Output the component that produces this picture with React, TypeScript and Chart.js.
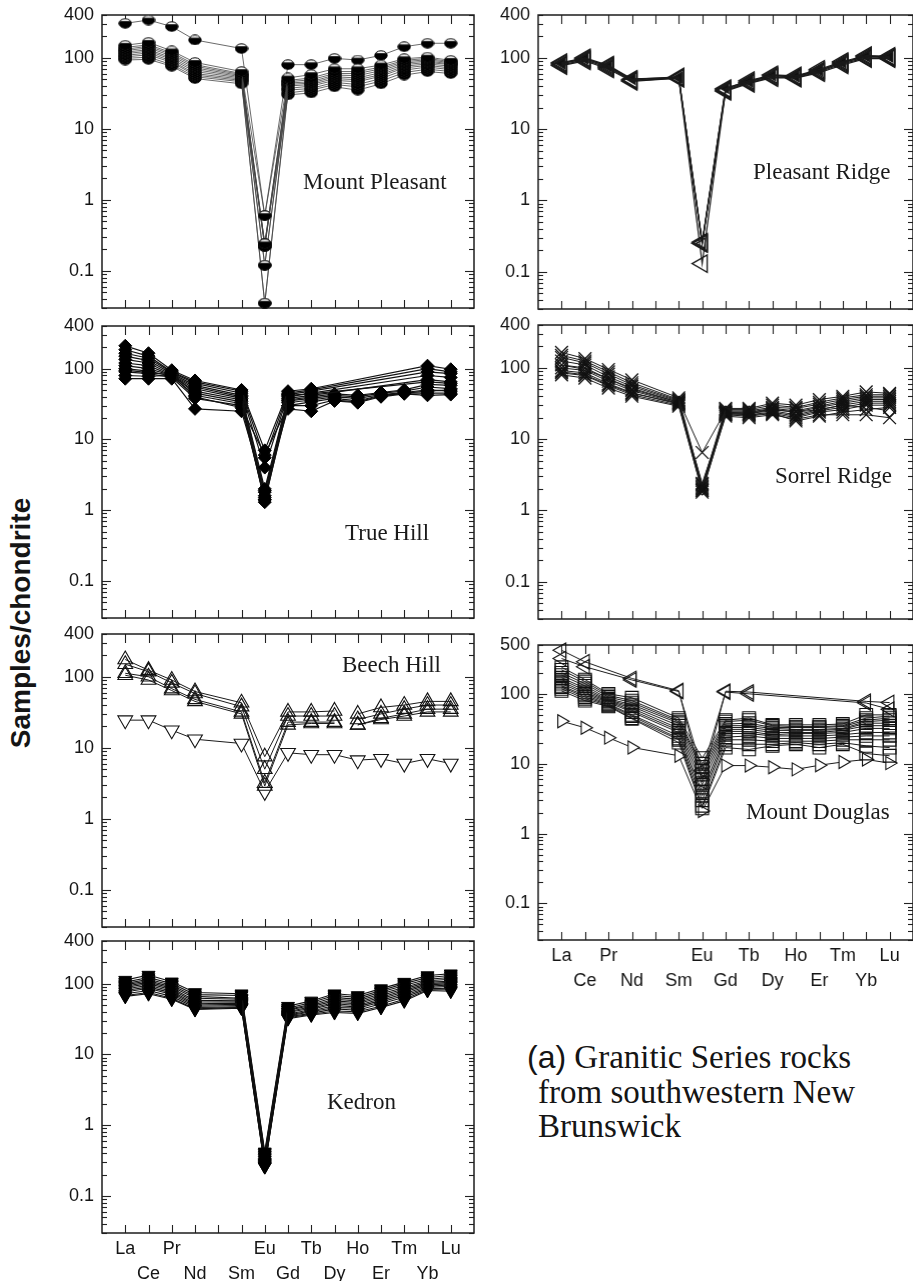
import React, { useEffect, useRef } from 'react';
import { Chart, registerables } from 'chart.js';

Chart.register(...registerables);

// Chondrite-normalised REE patterns, one panel per granite body.
const ELEMENTS = ['La', 'Ce', 'Pr', 'Nd', 'Pm', 'Sm', 'Eu', 'Gd', 'Tb', 'Dy', 'Ho', 'Er', 'Tm', 'Yb', 'Lu'];
const Y_TICKS = [0.1, 1, 10, 100, 400];
const Y_TICKS_MD = [0.1, 1, 10, 100, 500];
const Y_MIN = 0.03;

const _ = null;

// Mount Pleasant
const MP_HIGH = [305, 340, 275, 178, _, 135, 0.6, 80, 80, 98, 93, 108, 143, 160, 160];
const MP_MAIN = [
  [150, 165, 125, 86, _, 64, 0.6, 52, 58, 70, 70, 79, 97, 102, 92],
  [140, 152, 118, 80, _, 60, 0.24, 48, 52, 64, 64, 74, 92, 98, 88],
  [132, 145, 112, 76, _, 58, 0.24, 46, 49, 60, 60, 70, 88, 94, 85],
  [126, 138, 106, 72, _, 56, 0.22, 44, 46, 57, 56, 66, 84, 90, 82],
  [120, 130, 100, 68, _, 54, 0.22, 42, 44, 54, 52, 62, 80, 86, 80],
  [114, 124, 95, 64, _, 52, 0.12, 40, 42, 51, 49, 58, 76, 82, 76],
  [108, 117, 90, 60, _, 50, 0.12, 37, 40, 48, 46, 55, 72, 78, 72],
  [103, 110, 86, 57, _, 48, 0.035, 35, 37, 45, 42, 51, 67, 74, 68],
  [98, 102, 80, 54, _, 46, 0.035, 32, 35, 42, 39, 47, 62, 69, 64],
  [93, 95, 76, 51, _, 43, 0.24, 30, 32, 39, 35, 43, 57, 64, 60],
];

// Pleasant Ridge
const PR_SERIES = [
  [86, 100, 79, 50, _, 54, 0.26, 37, 48, 58, 56, 69, 89, 108, 105],
  [83, 97, 76, 49, _, 53, 0.25, 36, 46, 56, 54, 66, 86, 104, 102],
  [80, 94, 73, 48, _, 52, 0.13, 35, 45, 54, 53, 64, 83, 100, 100],
  [78, 91, 70, 47, _, 52, 0.25, 34, 44, 53, 52, 62, 80, 98, 98],
];
const PR_SOLID = [84, 98, 77, 51, _, 53, 0.25, 38, 47, 57, 55, 67, 87, 106, 104];

// True Hill
const TH_SERIES = [
  [210, 165, 95, 68, _, 50, 7, 48, 52, _, _, _, _, 110, 98],
  [185, 150, 90, 65, _, 48, 5.5, 45, 50, _, _, _, _, 100, 90],
  [165, 140, 88, 62, _, 45, 4, 43, 48, _, _, _, _, 90, 85],
  [150, 130, 85, 58, _, 42, 2, 40, 45, _, _, _, _, 80, 75],
  [135, 120, 82, 55, _, 40, 1.8, 38, 42, _, _, _, _, 70, 65],
  [120, 110, 80, 52, _, 38, 1.5, 36, 40, 44, 42, 46, 50, 60, 58],
  [110, 100, 80, 48, _, 36, 1.3, 35, 38, 42, 40, 45, 48, 55, 52],
  [100, 92, 78, 42, _, 32, 1.6, 33, 36, 40, 38, 43, 46, 50, 48],
  [90, 85, 75, 38, _, 30, 1.4, 30, 34, 38, 35, 42, 45, 45, 45],
  [72, 72, 72, 27, _, 25, 1.9, 27, 25, 35, 33, 40, 44, 42, 43],
  [80, 78, 80, 40, _, 28, 6, 30, 30, 36, 34, 41, 45, 48, 50],
  [95, 88, 82, 45, _, 34, 1.4, 42, 44, _, _, _, _, 65, 62],
];

// Sorrel Ridge
const SR_SERIES = [
  [165, 135, 95, 68, _, 38, 2.2, 27, 27, 32, 30, 36, 40, 46, 44],
  [150, 125, 88, 62, _, 36, 2.0, 26, 26, 30, 28, 33, 38, 42, 42],
  [140, 118, 82, 58, _, 35, 6.5, 25, 25, 28, 27, 31, 36, 40, 40],
  [125, 110, 75, 55, _, 34, 1.9, 24, 24, 27, 25, 29, 34, 38, 38],
  [110, 100, 70, 50, _, 33, 2.0, 24, 23, 26, 24, 28, 32, 36, 36],
  [100, 92, 65, 48, _, 32, 2.1, 23, 23, 25, 22, 26, 30, 34, 34],
  [92, 85, 60, 45, _, 31, 1.8, 22, 22, 24, 21, 25, 28, 32, 32],
  [85, 78, 56, 42, _, 30, 2.3, 22, 21, 23, 20, 24, 26, 30, 30],
  [80, 72, 52, 40, _, 29, 1.9, 21, 20, 22, 19, 22, 22, 22, 20],
  [88, 80, 58, 44, _, 32, 2.4, 23, 22, 23, 18, 21, 24, 26, 28],
];
const SR_DIAMOND = [110, 95, 70, 52, _, 33, 2.0, 24, 24, 26, 24, 26, 30, 28, 25];

// Beech Hill
const BH_UP = [
  [175, 124, 90, 62, _, 43, 7.5, 32, 32, 33, 30, 37, 40, 45, 45],
  [150, 118, 82, 58, _, 38, 5, 28, 28, 28, 25, 30, 35, 40, 40],
  [112, 100, 68, 48, _, 32, 3.2, 23, 23, 23, 21, 26, 30, 35, 35],
  [105, 90, 64, 45, _, 30, 2.9, 21, 22, 22, 21, 25, 28, 32, 32],
];
const BH_DOWN = [24.5, 24.5, 17.7, 13.2, _, 11.5, 2.4, 8.5, 8.0, 8.0, 6.7, 7.0, 6.0, 7.0, 6.0];

// Kedron
const KD_SERIES = [
  [112, 132, 106, 75, _, 72, 0.42, 48, 57, 72, 68, 85, 105, 130, 138],
  [105, 122, 100, 70, _, 68, 0.4, 45, 54, 68, 64, 80, 100, 122, 130],
  [100, 115, 95, 66, _, 62, 0.38, 43, 51, 64, 60, 76, 94, 115, 122],
  [96, 110, 90, 62, _, 60, 0.36, 42, 49, 60, 57, 72, 88, 110, 115],
  [92, 105, 86, 58, _, 57, 0.34, 40, 47, 57, 54, 68, 84, 105, 108],
  [88, 100, 82, 55, _, 55, 0.32, 39, 45, 54, 52, 64, 80, 100, 104],
  [84, 95, 78, 52, _, 53, 0.3, 37, 43, 52, 49, 61, 76, 96, 100],
  [80, 90, 74, 50, _, 51, 0.29, 36, 41, 49, 47, 58, 72, 92, 96],
  [76, 86, 70, 48, _, 49, 0.28, 35, 40, 46, 45, 55, 68, 88, 92],
  [72, 80, 66, 46, _, 47, 0.27, 34, 38, 44, 42, 52, 64, 85, 86],
  [68, 75, 62, 44, _, 46, 0.26, 33, 37, 41, 40, 48, 60, 82, 82],
  [66, 72, 60, 43, _, 45, 0.26, 32, 36, 39, 38, 46, 57, 80, 78],
];

// Mount Douglas
const MD_LEFT = [
  [420, 287, _, 166, _, 111, 5.5, 109, 106, _, _, _, _, 78, 75],
  [320, 244, _, 158, _, 108, 8, 106, 100, _, _, _, _, 74, 60],
];
const MD_RIGHT = [40.6, 32.7, 23.6, 17.1, _, 13, 2.1, 9.4, 9.4, 8.9, 8.3, 9.5, 10.6, 11.5, 10.2];
const MD_SQUARE = [
  [240, 160, 100, 88, _, 45, 12, 42, 45, 36, 36, 36, 37, 50, 50],
  [220, 150, 95, 80, _, 42, 10, 40, 42, 35, 34, 34, 35, 45, 48],
  [200, 140, 90, 75, _, 40, 9, 37, 38, 33, 33, 33, 34, 42, 45],
  [185, 130, 85, 70, _, 38, 8, 35, 35, 32, 31, 31, 32, 40, 42],
  [170, 120, 82, 66, _, 35, 7, 33, 33, 30, 30, 30, 31, 38, 38],
  [160, 112, 80, 62, _, 32, 6, 31, 31, 28, 28, 28, 30, 35, 35],
  [150, 105, 78, 58, _, 30, 5, 29, 29, 26, 27, 27, 28, 32, 32],
  [140, 100, 75, 55, _, 28, 4, 27, 27, 25, 25, 25, 26, 28, 28],
  [130, 95, 72, 50, _, 25, 3.5, 24, 25, 23, 23, 23, 24, 25, 25],
  [125, 90, 70, 48, _, 23, 3, 22, 22, 21, 21, 21, 22, 22, 22],
  [118, 85, 68, 45, _, 22, 2.5, 19, 19, 19, 20, 19, 20, 18, 17],
  [110, 80, 66, 44, _, 20, 2.3, 17, 16, 18, 19, 17, 19, 14, 13],
];

const SANS = "'Liberation Sans', Arial, Helvetica, sans-serif";
const SERIF = "'Liberation Serif', 'Times New Roman', Times, serif";
const INK = '#151515';
const OPEN = 'rgba(255,255,255,0)';

const Y_AXIS_W = 62;
const PAD_T = 12;
const PAD_R = 2;
const PAD_B = 3;
const X_AXIS_H = 56;

type Style = {
  pointStyle: any;
  radius: number;
  rotation?: number;
  fill: string | ((c: any) => string);
  stroke: string;
  pointBorderWidth: number;
  line: string;
  lineWidth: number;
  breakAfter?: number;
};

type Panel = {
  id: string;
  left: number;
  top: number;
  right: number;
  bottom: number;
  yMax: number;
  yTicks: number[];
  xLabels: boolean;
  series: { values: (number | null)[]; style: Style }[];
};

// Black ellipse with a small white cap, used for the Mount Pleasant samples.
function cappedEllipse(): HTMLCanvasElement {
  const c = document.createElement('canvas');
  c.width = 14;
  c.height = 11;
  const g = c.getContext('2d')!;
  g.beginPath();
  g.ellipse(7, 5.5, 6.2, 4.7, 0, 0, Math.PI * 2);
  g.fillStyle = '#fff';
  g.fill();
  g.save();
  g.clip();
  g.fillStyle = '#000';
  g.fillRect(0, 3.2, 14, 11);
  g.restore();
  g.lineWidth = 1;
  g.strokeStyle = '#000';
  g.stroke();
  return c;
}

function toDataset(values: (number | null)[], st: Style) {
  return {
    data: values.map((v, i) => ({ x: i, y: v })),
    borderColor: st.line,
    borderWidth: st.lineWidth,
    pointStyle: st.pointStyle,
    pointRadius: st.radius,
    pointRotation: st.rotation ?? 0,
    pointBackgroundColor: st.fill,
    pointBorderColor: st.stroke,
    pointBorderWidth: st.pointBorderWidth,
    spanGaps: true,
    clip: false as any,
    tension: 0,
    fill: false,
    segment:
      st.breakAfter != null
        ? { borderColor: (c: any) => (c.p0DataIndex === st.breakAfter ? 'rgba(0,0,0,0)' : undefined) }
        : undefined,
  };
}

// Inward tick marks on all four sides plus the frame.
const frameAndTicks = {
  id: 'frameAndTicks',
  beforeDatasetsDraw(chart: any) {
    const { ctx, chartArea: a, scales } = chart;
    const xs = scales.x;
    const ys = scales.y;
    const seg = (x1: number, y1: number, x2: number, y2: number) => {
      ctx.beginPath();
      ctx.moveTo(x1, y1);
      ctx.lineTo(x2, y2);
      ctx.stroke();
    };
    ctx.save();
    ctx.strokeStyle = '#222';
    ctx.lineWidth = 1.1;
    ELEMENTS.forEach((_e, i) => {
      const px = Math.round(xs.getPixelForValue(i)) + 0.5;
      seg(px, a.top, px, a.top + 9);
      seg(px, a.bottom, px, a.bottom - 8);
    });
    const lo = Math.floor(Math.log10(ys.min));
    const hi = Math.ceil(Math.log10(ys.max));
    for (let d = lo; d <= hi; d++) {
      for (let m = 1; m <= 9; m++) {
        const v = m * Math.pow(10, d);
        if (v < ys.min || v > ys.max) continue;
        const py = Math.round(ys.getPixelForValue(v)) + 0.5;
        const len = m === 1 ? 9 : 5;
        seg(a.left, py, a.left + len, py);
        seg(a.right, py, a.right - len, py);
      }
    }
    ctx.strokeStyle = '#1c1c1c';
    ctx.lineWidth = 1.5;
    ctx.strokeRect(a.left, a.top, a.right - a.left, a.bottom - a.top);
    ctx.restore();
  },
};

function buildConfig(p: Panel): any {
  const xH = p.xLabels ? X_AXIS_H : 0;
  return {
    type: 'line',
    data: { datasets: p.series.map((s) => toDataset(s.values, s.style)) },
    options: {
      animation: false,
      responsive: false,
      devicePixelRatio: 1,
      events: [],
      layout: { autoPadding: false, padding: { top: PAD_T, right: PAD_R, bottom: PAD_B, left: 0 } },
      plugins: { legend: { display: false }, tooltip: { enabled: false } },
      scales: {
        x: {
          type: 'linear',
          min: -1,
          max: 15,
          grid: { display: false, drawTicks: false },
          border: { display: false },
          afterBuildTicks: (s: any) => {
            s.ticks = ELEMENTS.map((_e, i) => ({ value: i }));
          },
          afterFit: (s: any) => {
            s.height = xH;
            s.paddingLeft = 0;
            s.paddingRight = 0;
          },
          ticks: {
            display: p.xLabels,
            autoSkip: false,
            maxRotation: 0,
            minRotation: 0,
            padding: 4,
            color: INK,
            font: { family: SANS, size: 18, lineHeight: 1.36 },
            callback: (v: any) => {
              const i = Number(v);
              const name = ELEMENTS[i];
              if (!name || name === 'Pm') return '';
              return i % 2 === 0 ? name : ['', name];
            },
          },
        },
        y: {
          type: 'logarithmic',
          min: Y_MIN,
          max: p.yMax,
          grid: { display: false, drawTicks: false },
          border: { display: false },
          afterBuildTicks: (s: any) => {
            s.ticks = p.yTicks.map((v) => ({ value: v }));
          },
          afterFit: (s: any) => {
            s.width = Y_AXIS_W;
            s.paddingTop = 0;
            s.paddingBottom = 0;
          },
          ticks: {
            padding: 8,
            color: INK,
            font: { family: SANS, size: 18 },
            callback: (v: any) => String(v),
          },
        },
      },
    },
    plugins: [frameAndTicks],
  };
}

function ChartPanel({ panel }: { panel: Panel }) {
  const ref = useRef<HTMLCanvasElement>(null);
  const w = Y_AXIS_W + (panel.right - panel.left) + PAD_R;
  const h = PAD_T + (panel.bottom - panel.top) + (panel.xLabels ? X_AXIS_H : 0) + PAD_B;
  useEffect(() => {
    const chart = new Chart(ref.current!, buildConfig(panel));
    return () => chart.destroy();
  }, [panel]);
  return (
    <canvas
      ref={ref}
      width={w}
      height={h}
      style={{ position: 'absolute', left: panel.left - Y_AXIS_W, top: panel.top - PAD_T, width: w, height: h }}
    />
  );
}

function makePanels(): Panel[] {
  const ellipse = cappedEllipse();
  const mpStyle: Style = { pointStyle: ellipse, radius: 6, fill: '#000', stroke: '#000', pointBorderWidth: 1, line: '#444', lineWidth: 0.8 };
  const prStyle: Style = { pointStyle: 'triangle', radius: 10, rotation: -90, fill: OPEN, stroke: '#1a1a1a', pointBorderWidth: 1.4, line: '#1a1a1a', lineWidth: 1.2 };
  // inner filled triangles, left open at the Eu anomaly
  const prSolid: Style = {
    ...prStyle,
    radius: 6,
    fill: (c: any) => (c.dataIndex === 6 ? OPEN : '#111'),
  };
  const thStyle: Style = { pointStyle: 'rectRot', radius: 6.5, fill: '#000', stroke: '#000', pointBorderWidth: 1, line: '#111', lineWidth: 1.2 };
  const srStyle: Style = { pointStyle: 'crossRot', radius: 9, fill: OPEN, stroke: '#111', pointBorderWidth: 1.3, line: '#1a1a1a', lineWidth: 1 };
  const srDiamond: Style = { pointStyle: 'rectRot', radius: 6, fill: '#fff', stroke: '#111', pointBorderWidth: 1.1, line: '#1a1a1a', lineWidth: 1 };
  const bhUp: Style = { pointStyle: 'triangle', radius: 8.5, fill: OPEN, stroke: '#111', pointBorderWidth: 1.1, line: '#1a1a1a', lineWidth: 1, breakAfter: 9 };
  const bhDown: Style = { pointStyle: 'triangle', radius: 8.5, rotation: 180, fill: '#fff', stroke: '#111', pointBorderWidth: 1.1, line: '#1a1a1a', lineWidth: 1 };
  const kdStyle: Style = { pointStyle: 'triangle', radius: 7.5, rotation: 180, fill: '#000', stroke: '#000', pointBorderWidth: 1, line: '#111', lineWidth: 1.1 };
  const mdSquare: Style = { pointStyle: 'rect', radius: 9, fill: OPEN, stroke: '#111', pointBorderWidth: 1.1, line: '#1a1a1a', lineWidth: 1 };
  const mdLeft: Style = { pointStyle: 'triangle', radius: 8.5, rotation: -90, fill: OPEN, stroke: '#111', pointBorderWidth: 1.1, line: '#1a1a1a', lineWidth: 1 };
  const mdRight: Style = { pointStyle: 'triangle', radius: 7.5, rotation: 90, fill: '#fff', stroke: '#111', pointBorderWidth: 1.1, line: '#1a1a1a', lineWidth: 1 };

  return [
    {
      id: 'mp', left: 102, top: 15, right: 474, bottom: 308, yMax: 400, yTicks: Y_TICKS, xLabels: false,
      series: [...MP_MAIN.map((v) => ({ values: v, style: mpStyle })), { values: MP_HIGH, style: mpStyle }],
    },
    {
      id: 'th', left: 102, top: 326, right: 474, bottom: 618, yMax: 400, yTicks: Y_TICKS, xLabels: false,
      series: TH_SERIES.map((v) => ({ values: v, style: thStyle })),
    },
    {
      id: 'bh', left: 102, top: 634, right: 474, bottom: 927, yMax: 400, yTicks: Y_TICKS, xLabels: false,
      series: [...BH_UP.map((v) => ({ values: v, style: bhUp })), { values: BH_DOWN, style: bhDown }],
    },
    {
      id: 'kd', left: 102, top: 941, right: 474, bottom: 1233, yMax: 400, yTicks: Y_TICKS, xLabels: true,
      series: KD_SERIES.map((v) => ({ values: v, style: kdStyle })),
    },
    {
      id: 'pr', left: 538, top: 15, right: 912.5, bottom: 309, yMax: 400, yTicks: Y_TICKS, xLabels: false,
      series: [...PR_SERIES.map((v) => ({ values: v, style: prStyle })), { values: PR_SOLID, style: prSolid }],
    },
    {
      id: 'sr', left: 538, top: 325, right: 912.5, bottom: 619, yMax: 400, yTicks: Y_TICKS, xLabels: false,
      series: [...SR_SERIES.map((v) => ({ values: v, style: srStyle })), { values: SR_DIAMOND, style: srDiamond }],
    },
    {
      id: 'md', left: 538, top: 645, right: 912.5, bottom: 940, yMax: 500, yTicks: Y_TICKS_MD, xLabels: true,
      series: [
        ...MD_SQUARE.map((v) => ({ values: v, style: mdSquare })),
        ...MD_LEFT.map((v) => ({ values: v, style: mdLeft })),
        { values: MD_RIGHT, style: mdRight },
      ],
    },
  ];
}

const TITLES = [
  { text: 'Mount Pleasant', x: 303, y: 182 },
  { text: 'True Hill', x: 345, y: 533 },
  { text: 'Beech Hill', x: 342, y: 665 },
  { text: 'Kedron', x: 327, y: 1102 },
  { text: 'Pleasant Ridge', x: 753, y: 172 },
  { text: 'Sorrel Ridge', x: 775, y: 476 },
  { text: 'Mount Douglas', x: 746, y: 812 },
];

export default function App() {
  const panels = React.useMemo(() => makePanels(), []);
  return (
    <div
      style={{
        position: 'absolute', left: 0, top: 0, width: 913, height: 1281,
        overflow: 'hidden', background: '#fff',
      }}
    >
      {panels.map((p) => (
        <ChartPanel key={p.id} panel={p} />
      ))}
      {TITLES.map((t) => (
        <div
          key={t.text}
          style={{
            position: 'absolute', left: t.x, top: t.y - 13, fontFamily: SERIF, fontSize: 23,
            lineHeight: '26px', color: '#1a1a1a', whiteSpace: 'nowrap',
          }}
        >
          {t.text}
        </div>
      ))}
      <div
        style={{
          position: 'absolute', left: 21, top: 623, transform: 'translate(-50%, -50%) rotate(-90deg)',
          fontFamily: SANS, fontWeight: 'bold', fontSize: 28, lineHeight: '30px', color: INK, whiteSpace: 'nowrap',
        }}
      >
        Samples/chondrite
      </div>
      <div
        style={{
          position: 'absolute', left: 527, top: 1040, fontFamily: SERIF, fontSize: 33,
          lineHeight: '34.5px', color: INK, whiteSpace: 'nowrap',
        }}
      >
        <div>
          <span style={{ fontFamily: SANS, fontSize: 32 }}>(a)</span> Granitic Series rocks
        </div>
        <div style={{ paddingLeft: 11 }}>from southwestern New</div>
        <div style={{ paddingLeft: 11 }}>Brunswick</div>
      </div>
    </div>
  );
}
